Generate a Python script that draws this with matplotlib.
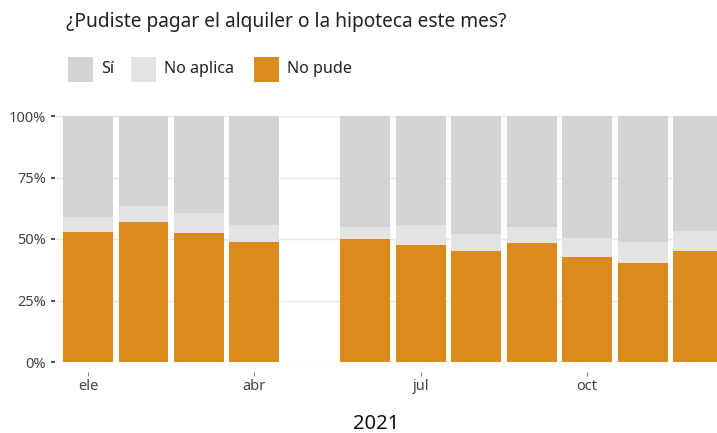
import matplotlib.pyplot as plt
from matplotlib.patches import Rectangle
import numpy as np

plt.rcParams['font.family'] = ['Noto Sans', 'DejaVu Sans']

months = [1, 2, 3, 4, 6, 7, 8, 9, 10, 11, 12]
no_pude = [52.7, 56.8, 52.6, 48.8, 49.9, 47.4, 45.1, 48.5, 42.5, 40.4, 45.3]
no_aplica = [6.4, 6.7, 7.8, 6.9, 5.1, 8.3, 6.9, 6.5, 7.8, 8.4, 8.0]
tick_months = [1, 4, 7, 10]
tick_labels = ['ele', 'abr', 'jul', 'oct']

c_si = '#d3d3d3'
c_na = '#e3e3e3'
c_np = '#db8b1d'

no_pude = np.array(no_pude)
no_aplica = np.array(no_aplica)
si = 100 - no_pude - no_aplica

fig = plt.figure(figsize=(7.17, 4.33), dpi=100)
ax = fig.add_axes([55/717, 71/433, 1 - 55/717, 246/433])

ax.bar(months, no_pude, width=0.9, color=c_np, zorder=2)
ax.bar(months, no_aplica, width=0.9, bottom=no_pude, color=c_na, zorder=2)
ax.bar(months, si, width=0.9, bottom=no_pude + no_aplica, color=c_si, zorder=2)

ax.set_xlim(0.405, 12.34)
ax.set_ylim(0, 100)
ax.set_yticks([0, 25, 50, 75, 100])
ax.set_yticklabels(['0%', '25%', '50%', '75%', '100%'])
ax.set_xticks(tick_months)
ax.set_xticklabels(tick_labels)
ax.grid(axis='y', color='#e8e8e8', linewidth=1, zorder=0)

for s in ax.spines.values():
    s.set_visible(False)
ax.spines['bottom'].set_position(('outward', 7))

ax.tick_params(axis='y', length=3, width=1.2, color='#333333', labelsize=10.5, labelcolor='#444444', pad=3.5)
ax.tick_params(axis='x', length=3, width=0.8, color='#888888', labelsize=10.5, labelcolor='#444444', pad=2)

ax.set_xlabel('2021', fontsize=14.5, color='#111111')
ax.xaxis.set_label_coords((376 - 55) / (717 - 55), -52/246)

fig.text(66/717, 1 - 22/433, '¿Pudiste pagar el alquiler o la hipoteca este mes?', fontsize=13.8,
         color='#222222', va='center', ha='left')

legend_items = [('Sí', c_si, 68), ('No aplica', c_na, 131), ('No pude', c_np, 254)]
for label, col, x0 in legend_items:
    fig.patches.append(Rectangle((x0/717, 1 - 82/433), 25/717, 25/433, transform=fig.transFigure,
                                 facecolor=col, edgecolor='none'))
    fig.text((x0 + 33)/717, 1 - 69/433, label, fontsize=11.6, color='#222222', va='center', ha='left')

fig.savefig('out.png', dpi=100)
